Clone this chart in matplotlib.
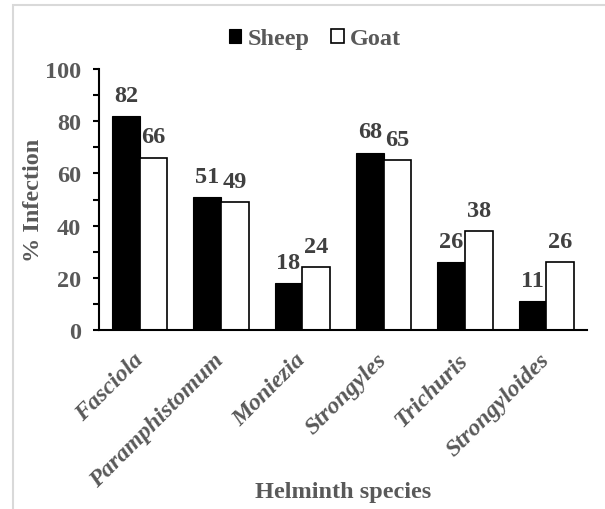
import numpy as np
import matplotlib
matplotlib.use("Agg")
import matplotlib.pyplot as plt
from matplotlib.ticker import MultipleLocator
from matplotlib.patches import Rectangle

# data
species = ["Fasciola", "Paramphistomum", "Moniezia", "Strongyles", "Trichuris", "Strongyloides"]
sheep = [82, 51, 18, 68, 26, 11]
goat = [66, 49, 24, 65, 38, 26]

plt.rcParams["font.family"] = ["Liberation Serif", "DejaVu Serif"]
plt.rcParams["font.weight"] = "bold"

txt_gray = "#595959"
val_gray = "#404040"
fs = 17.5

fig = plt.figure(figsize=(6.05, 5.1), dpi=100)
ax = fig.add_axes([99 / 605, 1 - 331 / 510, 488 / 605, 261 / 510])

# light frame around the picture (cropped on right and bottom)
fig.add_artist(Rectangle((13 / 605, -0.2), 1.5, 1.2 - 6 / 510, transform=fig.transFigure,
                         fill=False, edgecolor="#d9d9d9", linewidth=1.5))

x = np.arange(len(species))
w = 0.34
b1 = ax.bar(x - w / 2, sheep, w, color="black", edgecolor="black", linewidth=0.8, label="Sheep")
b2 = ax.bar(x + w / 2, goat, w, color="white", edgecolor="black", linewidth=1.2, label="Goat")

for bars, vals in ((b1, sheep), (b2, goat)):
    for r, v in zip(bars, vals):
        ax.annotate(str(v), (r.get_x() + r.get_width() / 2, v), xytext=(0, 11),
                    textcoords="offset points", ha="center", va="baseline",
                    fontsize=fs, fontweight="bold", color=val_gray)

ax.set_xlim(-0.5, 5.5)
ax.set_ylim(0, 100)
ax.yaxis.set_major_locator(MultipleLocator(20))
ax.yaxis.set_minor_locator(MultipleLocator(10))
ax.tick_params(axis="y", which="both", direction="out", length=4, width=1.5, colors="black",
               labelcolor=txt_gray, labelsize=fs, pad=9)
ax.tick_params(axis="x", length=0, pad=19)
ax.set_xticks(x)
ax.set_xticklabels(species, rotation=45, ha="right", va="center", rotation_mode="anchor",
                   fontsize=fs, fontstyle="italic", fontweight="bold", color=txt_gray)

for s in ("top", "right"):
    ax.spines[s].set_visible(False)
for s in ("left", "bottom"):
    ax.spines[s].set_linewidth(1.5)

ax.set_ylabel("% Infection", fontsize=fs, fontweight="bold", color=txt_gray)
ax.yaxis.set_label_coords(-0.113, 0.5)
ax.set_xlabel("Helminth species", fontsize=fs, fontweight="bold", color=txt_gray)
ax.xaxis.set_label_coords(0.5, -0.58)

fig.legend(handles=[b1, b2], loc="center", bbox_to_anchor=(315 / 605, 1 - 40 / 510),
           ncol=2, frameon=False, fontsize=fs, labelcolor=txt_gray,
           handlelength=0.5, handleheight=0.5, handletextpad=0.25, columnspacing=0.9)

fig.savefig("out.png", dpi=100)
